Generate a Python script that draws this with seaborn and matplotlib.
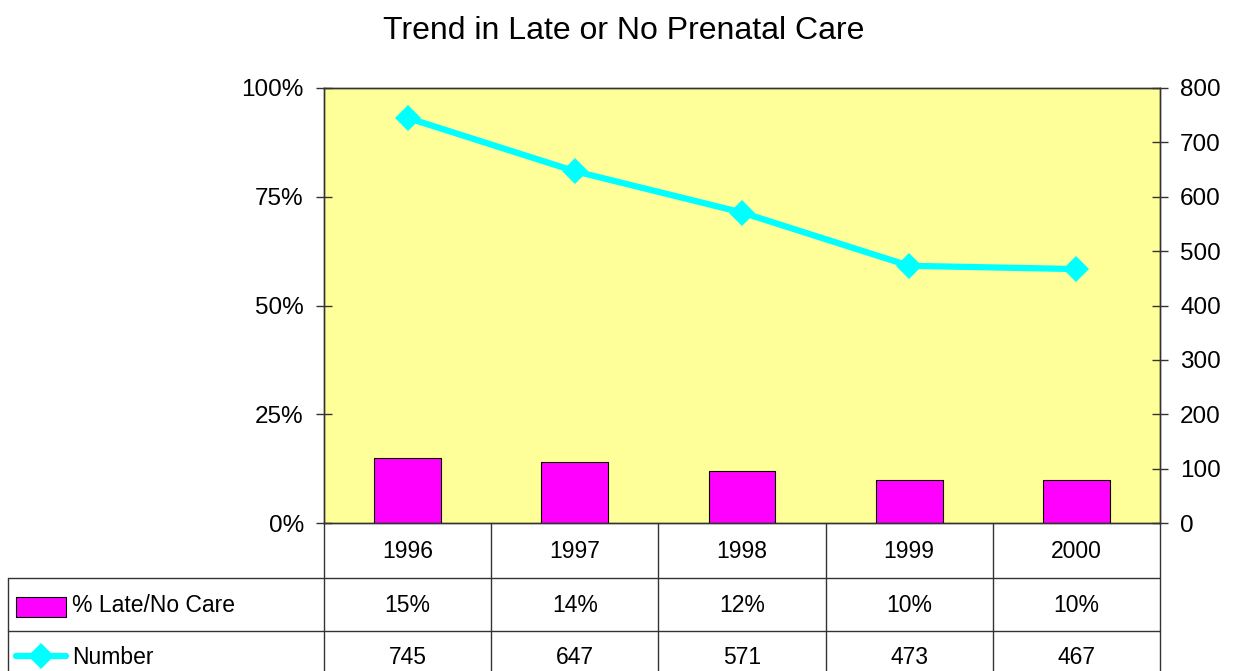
import matplotlib
matplotlib.use("Agg")
import matplotlib.pyplot as plt
import seaborn as sns
import numpy as np
from matplotlib.lines import Line2D
from matplotlib.patches import Rectangle

years = ["1996", "1997", "1998", "1999", "2000"]
pct_late = [15, 14, 12, 10, 10]
number = [745, 647, 571, 473, 467]
pct_labels = ["15%", "14%", "12%", "10%", "10%"]

sns.set_style("white")
plt.rcParams["font.family"] = ["Liberation Sans", "DejaVu Sans"]
plt.rcParams["text.color"] = "black"
plt.rcParams["ytick.labelcolor"] = "black"
tfs = 16.5  # table font size

W, H = 1240, 671
fig = plt.figure(figsize=(W / 100, H / 100), dpi=100)
L, R, T, B = 324, 1160, 88, 523
ax = fig.add_axes([L / W, 1 - B / H, (R - L) / W, (B - T) / H])
ax.set_facecolor("#FFFF99")

sns.barplot(x=years, y=pct_late, ax=ax, color="#FF00FF", width=0.4,
            edgecolor="black", linewidth=0.8, saturation=1)
ax.set_ylim(0, 100)
ax.set_xlim(-0.5, 4.5)
ax.set_yticks([0, 25, 50, 75, 100])
ax.set_yticklabels(["0%", "25%", "50%", "75%", "100%"])
ax.set_xticks([])
ax.set_xlabel("")
ax.set_ylabel("")

ax2 = ax.twinx()
sns.lineplot(x=np.arange(len(years)), y=number, ax=ax2, color="#00FFFF",
             linewidth=4.5, marker="D", markersize=13, markeredgewidth=0)
ax2.set_ylim(0, 800)
ax2.set_yticks(range(0, 801, 100))
ax2.set_xlim(-0.5, 4.5)
ax2.set_ylabel("")

for a in (ax, ax2):
    for s in a.spines.values():
        s.set_color("#333333")
        s.set_linewidth(1.0)
    a.tick_params(axis="y", direction="inout", length=11, width=1,
                  color="#333333", labelsize=17.5, pad=9, labelcolor="black")

fig.text(0.503, 1 - 31 / H, "Trend in Late or No Prenatal Care",
         ha="center", va="center", fontsize=23)

# data table below the plot
tr = ax.get_xaxis_transform()
def fy(p):
    return (B - p) / (B - T)

lc = "#333333"
for i in range(len(years) + 1):
    ax.add_line(Line2D([i - 0.5, i - 0.5], [fy(523), fy(700)], transform=tr,
                       color=lc, lw=1, clip_on=False))
x_left = -0.5 + (8 - L) / ((R - L) / 5)
for yp in (578, 631):
    ax.add_line(Line2D([x_left, 4.5], [fy(yp), fy(yp)], transform=tr,
                       color=lc, lw=1, clip_on=False))
ax.add_line(Line2D([x_left, x_left], [fy(578), fy(700)], transform=tr,
                   color=lc, lw=1, clip_on=False))

for i, yr in enumerate(years):
    ax.text(i, fy(551), yr, transform=tr, ha="center", va="center",
            fontsize=tfs)
    ax.text(i, fy(605), pct_labels[i], transform=tr, ha="center", va="center",
            fontsize=tfs)
    ax.text(i, fy(657), str(number[i]), transform=tr, ha="center", va="center",
            fontsize=tfs)

px = (R - L) / 5
ax.add_patch(Rectangle((x_left + 8 / px, fy(617)), 50 / px, fy(597) - fy(617),
                       transform=tr, facecolor="#FF00FF", edgecolor="black",
                       lw=0.8, clip_on=False))
ax.add_line(Line2D([x_left + 8 / px, x_left + 58 / px], [fy(656), fy(656)],
                   transform=tr, color="#00FFFF", lw=4.5, clip_on=False))
ax.add_line(Line2D([x_left + 33 / px], [fy(656)], transform=tr, marker="D",
                   markersize=13, color="#00FFFF", markeredgewidth=0,
                   clip_on=False))
ax.text(x_left + 64 / px, fy(605), "% Late/No Care", transform=tr,
        ha="left", va="center", fontsize=tfs)
ax.text(x_left + 64 / px, fy(657), "Number", transform=tr,
        ha="left", va="center", fontsize=tfs)

fig.savefig("out.png", dpi=100)
